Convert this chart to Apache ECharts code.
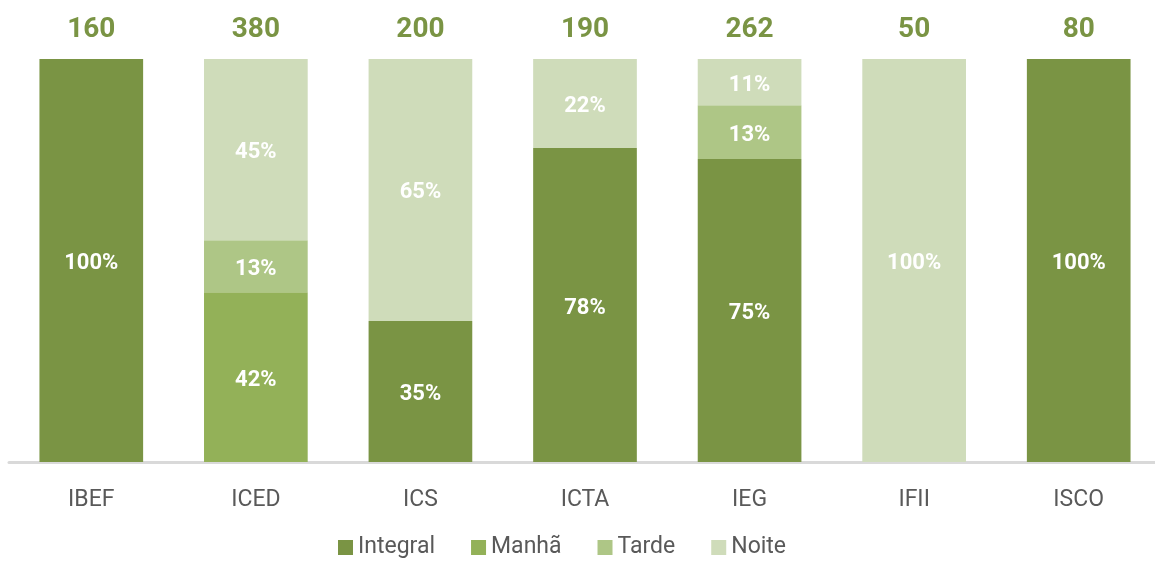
<!DOCTYPE html>
<html>
<head>
<meta charset="utf-8">
<script src="https://cdn.jsdelivr.net/npm/echarts@6/dist/echarts.min.js"></script>
<style>
  html, body { margin: 0; padding: 0; background: #fff; overflow: hidden; }
  #main { width: 1161px; height: 562px; }
</style>
</head>
<body>
<div id="main"></div>
<script>
// headcount per turno
const categories = ['IBEF', 'ICED', 'ICS', 'ICTA', 'IEG', 'IFII', 'ISCO']
const integral = [160, 0, 70, 148, 197, 0, 80]
const manha = [0, 160, 0, 0, 0, 0, 0]
const tarde = [0, 49, 0, 0, 35, 0, 0]
const noite = [0, 171, 130, 42, 30, 50, 0]
const totals = [160, 380, 200, 190, 262, 50, 80]

const colors = ['#7a9444', '#93b158', '#aec686', '#cfdcba']
const font = 'Roboto, "Liberation Sans", sans-serif'

const pct = (arr) => arr.map((v, i) => +(v / totals[i] * 100).toFixed(2))

const makeSeries = (name, arr, color) => ({
  name: name,
  type: 'bar',
  stack: 'turno',
  barCategoryGap: '37%',
  data: pct(arr),
  itemStyle: { color: color },
  label: {
    show: true,
    position: 'inside',
    offset: [0, 3],
    color: '#fff',
    fontFamily: font,
    fontWeight: 'bold',
    fontSize: 22,
    formatter: (p) => p.value > 0 ? Math.round(p.value) + '%' : ''
  }
})

const chart = echarts.init(document.getElementById('main'))
chart.setOption({
  animation: false,
  color: colors,
  grid: { left: 9, right: 0, top: 59, bottom: 100, containLabel: false },
  legend: {
    data: ['Integral', 'Manhã', 'Tarde', 'Noite'],
    top: 531,
    left: 333,
    itemWidth: 15,
    itemHeight: 15,
    itemGap: 36,
    icon: 'rect',
    textStyle: { color: '#595959', fontSize: 23, fontFamily: font }
  },
  xAxis: {
    type: 'category',
    data: categories,
    axisLine: { lineStyle: { color: '#d9d9d9', width: 3 } },
    axisTick: { show: false },
    axisLabel: { color: '#595959', fontSize: 23, fontFamily: font, margin: 27 }
  },
  yAxis: {
    type: 'value',
    min: 0,
    max: 100,
    show: false,
    splitLine: { show: false }
  },
  series: [
    makeSeries('Integral', integral, colors[0]),
    makeSeries('Manhã', manha, colors[1]),
    makeSeries('Tarde', tarde, colors[2]),
    makeSeries('Noite', noite, colors[3]),
    {
      name: 'Total',
      type: 'bar',
      barGap: '-100%',
      data: totals.map(() => 100),
      itemStyle: { color: 'rgba(0,0,0,0)' },
      silent: true,
      z: 1,
      label: {
        show: true,
        position: 'top',
        distance: 15,
        color: '#7a9444',
        fontFamily: font,
        fontWeight: 'bold',
        fontSize: 28,
        formatter: (p) => totals[p.dataIndex]
      }
    }
  ]
})
</script>
</body>
</html>
